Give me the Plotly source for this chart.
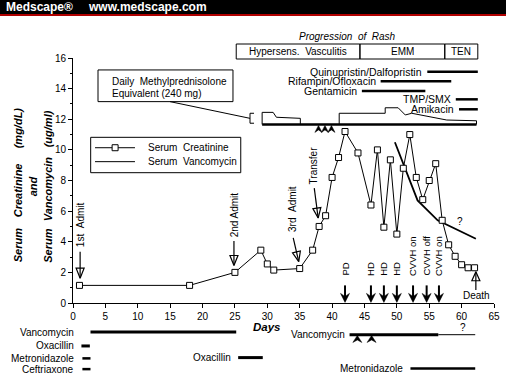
import math
import plotly.graph_objects as go

W, H = 506, 374
ML, MR = 73, 12
PW = W - ML - MR


def px(x):
    return (x - ML) / PW


def py(y):
    return 1 - y / H


DAY_PX = PW / 65.0
VAL_PX = (303 - 58) / 16.0
LANE_PX = 12.8
FONT = "Liberation Sans, Arial, sans-serif"
NB = "\u00a0"

# ---------------- data ----------------
creat_days = [1, 18, 25, 29, 30, 31, 35, 37, 38, 39, 40, 41, 42, 44, 46, 47, 48, 49, 50,
              51, 52, 53, 54, 55, 56, 57, 58, 59, 60, 61, 62]
creat_vals = [1.15, 1.15, 2.0, 3.45, 2.55, 2.15, 2.25, 3.45, 5.0, 5.7, 8.2, 9.5, 11.2, 9.8, 6.4,
              10.0, 4.95, 9.35, 4.5, 8.8, 11.0, 8.2, 6.75, 8.0, 9.1, 5.4, 3.8, 3.05, 2.5, 2.3, 2.3]

vanc_days = [49.7, 53.2, 56.3, 62.2]
vanc_vals = [10.5, 6.7, 5.4, 4.2]

steroid_days = [29.2, 29.2, 30.9, 31.4, 35.1, 35.1, 41.1, 41.1, 48.2, 48.2, 50.2, 51.3,
                52.3, 57.7, 62.3, 62.3]
steroid_level = [11.66, 12.45, 12.45, 12.13, 12.06, 11.66, 11.66, 12.39, 12.39, 12.75, 12.75,
                 12.28, 12.39, 11.95, 11.9, 11.66]
steroid_base = 11.66
steroid_span = [29.2, 62.3]
pulse_days = [37.9, 38.9, 39.9]

top_drugs = ["Quinupristin/Dalfopristin", "Rifampin/Ofloxacin", "Gentamicin", "TMP/SMX", "Amikacin"]
top_start = [54.7, 47.5, 44.6, 59.1, 59.6]
top_end = [62.5, 58.4, 54.4, 62.5, 62.5]
top_level = [15.1, 14.48, 13.85, 13.3, 12.65]

rash_names = ["Hypersens." + NB + NB + "Vasculitis", "EMM", "TEN"]
rash_bounds = [25.2, 44.3, 57.4, 62.5]

admit_labels = ["1st" + NB + NB + "Admit", "2nd Admit", "3rd" + NB + NB + "Admit", "Transfer"]
admit_tail_day = [1.1, 24.85, 34.0, 37.25]
admit_tail_val = [3.35, 4.05, 4.25, 7.5]
admit_tip_day = [1.1, 24.85, 34.85, 37.85]
admit_tip_val = [1.62, 2.45, 2.7, 5.55]
admit_text_day = [1.2, 24.85, 33.8, 37.1]
admit_text_val = [3.6, 4.25, 4.57, 7.7]

event_labels = ["PD", "HD", "HD", "HD", "CVVH on", "CVVH off", "CVVH on"]
event_days = [42.0, 46.0, 48.0, 50.0, 52.5, 54.6, 56.5]

death_day = 62.2

bottom_drugs = ["Vancomycin", "Oxacillin", "Metronidazole", "Ceftriaxone", "Oxacillin",
                "Vancomycin", "Metronidazole"]
bottom_start = [2.7, 1.3, 1.45, 1.45, 25.5, 42.7, 52.1]
bottom_end = [25.2, 2.6, 2.7, 2.7, 29.3, 56.4, 62.1]
bottom_lane = [0.0, 1.09, 2.06, 2.9, 2.0, 0.21, 2.85]
bottom_label_day = [0.3, 0.3, 0.3, 0.3, 24.6, 42.1, 51.1]
bottom_width = [3, 3, 2.5, 2.5, 3, 3, 2.5]
vanc_uncertain = [56.4, 62.1]
bottom_pulse_days = [43.9, 46.1]

fig = go.Figure()


def line(x, y, width=1.0, yaxis="y", fill=None, color="black"):
    fig.add_trace(go.Scatter(x=x, y=y, mode="lines", yaxis=yaxis,
                             line=dict(color=color, width=width),
                             fill=fill, fillcolor="black" if fill else None,
                             hoverinfo="skip", showlegend=False))


def head(tip_x, tip_y, ux, uy, length, half, notch, ys):
    vx, vy = -uy, ux
    pts = [(0, 0),
           (-ux * length + vx * half, -uy * length + vy * half),
           (-ux * (length - notch), -uy * (length - notch)),
           (-ux * length - vx * half, -uy * length - vy * half),
           (0, 0)]
    return ([tip_x + p[0] / DAY_PX for p in pts], [tip_y - p[1] / ys for p in pts])


def text(x, y, s, xref="x", yref="y", size=10, xanchor="center", yanchor="middle",
         angle=0, color="black"):
    fig.add_annotation(x=x, y=y, xref=xref, yref=yref, text=s, showarrow=False,
                       xanchor=xanchor, yanchor=yanchor, textangle=angle,
                       font=dict(size=size, family=FONT, color=color), borderpad=0)


shapes = []
# header band
shapes.append(dict(type="rect", xref="paper", yref="paper", x0=px(0), x1=px(W), y0=py(14), y1=py(0),
                   fillcolor="black", line=dict(width=0), layer="above"))
shapes.append(dict(type="rect", xref="paper", yref="paper", x0=px(0), x1=px(W), y0=py(16), y1=py(14),
                   fillcolor="#b00000", line=dict(width=0), layer="above"))
text(px(5), py(7), "<b>Medscape®</b>", xref="paper", yref="paper", size=12, xanchor="left", color="white")
text(px(87), py(7), "<b>www.medscape.com</b>", xref="paper", yref="paper", size=12, xanchor="left",
     color="white")

# rash progression box
for i, nm in enumerate(rash_names):
    shapes.append(dict(type="rect", xref="x", yref="paper", x0=rash_bounds[i], x1=rash_bounds[i + 1],
                       y0=py(59), y1=py(44), line=dict(color="black", width=1)))
    text((rash_bounds[i] + rash_bounds[i + 1]) / 2, py(51.5), nm, yref="paper")
text((rash_bounds[0] + rash_bounds[-1]) / 2 - 1.5, py(37),
     "<i>Progression" + NB + " of" + NB + " Rash</i>", yref="paper")

# top antibiotics
for nm, s, e, lv in zip(top_drugs, top_start, top_end, top_level):
    line([s, e], [lv, lv], width=2.5)
    text(s - 0.6, lv, nm, xanchor="right", size=10.5)

# methylprednisolone box
shapes.append(dict(type="rect", xref="x", yref="y", x0=3.86, x1=24.7, y0=13.15, y1=15.22,
                   line=dict(color="black", width=1)))
text(5.8, 14.45, "Daily" + NB + NB + "Methylprednisolone", xanchor="left")
text(5.8, 13.7, "Equivalent (240 mg)", xanchor="left")
shapes.append(dict(type="line", xref="x", yref="y", x0=14.98, y0=13.15, x1=27.33, y1=12.06,
                   line=dict(color="black", width=1)))
shapes.append(dict(type="path", xref="x", yref="y",
                   path="M 27.95 12.39 L 27.33 12.39 L 27.33 11.74 L 27.95 11.74",
                   line=dict(color="black", width=1)))
line(steroid_days, steroid_level, width=1)
line(steroid_span, [steroid_base, steroid_base], width=2.5)
for d in pulse_days:
    hx, hy = head(d, steroid_base - 0.06, 0, -1, 7, 3.6, 2.5, VAL_PX)
    line(hx, hy, width=0.5, fill="toself")

# legend box
shapes.append(dict(type="rect", xref="x", yref="y", x0=2.73, x1=25.9, y0=8.51, y1=10.82,
                   line=dict(color="black", width=1)))
line([3.4, 9.57], [10.14, 10.14], width=1)
line([3.4, 9.57], [9.23, 9.23], width=1)
fig.add_trace(go.Scatter(x=[6.5], y=[10.14], mode="markers",
                         marker=dict(symbol="square", size=6, color="white",
                                     line=dict(color="black", width=1)),
                         hoverinfo="skip", showlegend=False))
text(11.47, 10.14, "Serum" + NB + NB + "Creatinine", xanchor="left")
text(11.47, 9.23, "Serum" + NB + NB + "Vancomycin", xanchor="left")

# data series
fig.add_trace(go.Scatter(x=vanc_days, y=vanc_vals, mode="lines", name="Serum Vancomycin",
                         line=dict(color="black", width=1.8), showlegend=False))
fig.add_trace(go.Scatter(x=creat_days, y=creat_vals, mode="lines+markers", name="Serum Creatinine",
                         line=dict(color="black", width=1),
                         marker=dict(symbol="square", size=6, color="white",
                                     line=dict(color="black", width=1)),
                         showlegend=False))
text(59.75, 5.31, "?")

# admission arrows (open heads)
for lab, td, tv, hd, hv, xd, xv in zip(admit_labels, admit_tail_day, admit_tail_val, admit_tip_day,
                                       admit_tip_val, admit_text_day, admit_text_val):
    line([td, hd], [tv, hv], width=1.2)
    dx = (hd - td) * DAY_PX
    dy = -(hv - tv) * VAL_PX
    n = math.hypot(dx, dy)
    hx, hy = head(hd, hv, dx / n, dy / n, 10, 4, 0, VAL_PX)
    line(hx, hy, width=1.2)
    text(xd, xv, lab, angle=-90, yanchor="bottom")

# death arrow
line([death_day, death_day], [0.85, 2.04], width=1.2)
hx, hy = head(death_day, 2.04, 0, -1, 9, 4, 0, VAL_PX)
line(hx, hy, width=1.2)
text(death_day + 0.1, 0.46, "Death")

# dialysis events (filled arrows)
for lab, d in zip(event_labels, event_days):
    line([d, d], [1.15, 0.3], width=2)
    hx, hy = head(d, 0.04, 0, 1, 9, 4.5, 3, VAL_PX)
    line(hx, hy, width=0.5, fill="toself")
    text(d, 1.7, lab, angle=-90, yanchor="bottom", size=9.5)

# bottom antibiotic timeline
for nm, s, e, ln, lx, w in zip(bottom_drugs, bottom_start, bottom_end, bottom_lane, bottom_label_day,
                               bottom_width):
    line([s, e], [ln, ln], width=w, yaxis="y2")
    text(lx, ln, nm, yref="y2", xanchor="right")
line(vanc_uncertain, [bottom_lane[5], bottom_lane[5]], width=1, yaxis="y2")
text(60.2, -0.33, "?", yref="y2")
for d in bottom_pulse_days:
    hx, hy = head(d, bottom_lane[5] + 0.06, 0, -1, 7, 4.5, 2.5, -LANE_PX)
    line(hx, hy, width=0.5, yaxis="y2", fill="toself")

# axis titles
text(30, py(327), "<b><i>Days</i></b>", yref="paper", size=11.5)
ytitle = [(18.3, 245, "Serum"), (18.3, 190, "Creatinine"), (18.3, 128, "(mg/dL)"),
          (33.3, 186, "and"),
          (48.3, 245.5, "Serum"), (48.3, 189, "Vancomycin"), (48.3, 129, "(ug/ml)")]
for xx, yy, s in ytitle:
    text(px(xx), py(yy), "<b><i>" + s + "</i></b>", xref="paper", yref="paper", size=11, angle=-90)

fig.update_layout(
    template="none",
    width=W, height=H, margin=dict(l=ML, r=MR, t=0, b=0, pad=0, autoexpand=False),
    paper_bgcolor="white", plot_bgcolor="rgba(0,0,0,0)",
    showlegend=False, hovermode=False,
    font=dict(family=FONT, size=10, color="black"),
    shapes=shapes,
    xaxis=dict(range=[0, 65], domain=[0, 1], anchor="y", showline=True, linecolor="black",
               linewidth=1, ticks="outside", ticklen=4, tickcolor="black", automargin=False,
               tickvals=list(range(0, 66, 5)), showgrid=False, zeroline=False,
               tickfont=dict(size=10, family=FONT)),
    yaxis=dict(range=[0, 16], domain=[py(303), py(58)], anchor="x", showline=True,
               linecolor="black", linewidth=1, ticks="outside", ticklen=4, tickcolor="black",
               tickvals=list(range(0, 17, 2)), automargin=False,
               minor=dict(tickvals=list(range(1, 16, 2)), ticks="outside", ticklen=2,
                          tickcolor="black"),
               showgrid=False, zeroline=False, tickfont=dict(size=10, family=FONT)),
    yaxis2=dict(range=[3.281, -1.094], domain=[0, py(318)], anchor="x", visible=False,
                automargin=False),
)

fig.write_html("out.html", config={"displayModeBar": False},
               post_script="document.body.style.margin='0';document.body.style.padding='0';")
